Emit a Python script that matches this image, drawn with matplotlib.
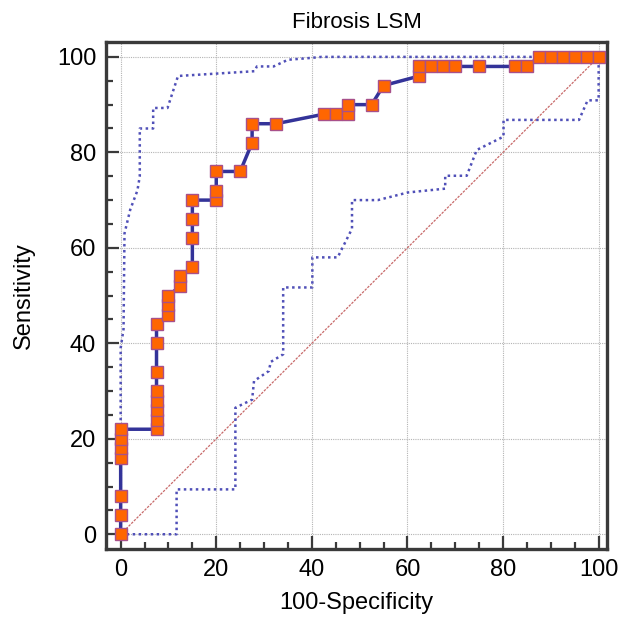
import matplotlib
matplotlib.use("Agg")
from matplotlib import pyplot as plt
from matplotlib.ticker import MultipleLocator

# ROC points (100-Specificity, Sensitivity)
rocX = [0, 0, 0, 0, 0, 0, 0,
        7.5, 7.5, 7.5, 7.5, 7.5, 7.5, 7.5, 7.5,
        10, 10, 10,
        12.5, 12.5,
        15, 15, 15, 15,
        20, 20, 20,
        25,
        27.5, 27.5,
        32.5,
        42.5, 45, 47.5, 47.5,
        52.5, 55,
        62.5, 62.5, 65, 67.5, 70, 75, 82.5, 85,
        87.5, 90, 92.5, 95, 97.5, 100]
rocY = [0, 4, 8, 16, 18, 20, 22,
        22, 24, 26, 28, 30, 34, 40, 44,
        46, 48, 50,
        52, 54,
        56, 62, 66, 70,
        70, 72, 76,
        76,
        82, 86,
        86,
        88, 88, 88, 90,
        90, 94,
        96, 98, 98, 98, 98, 98, 98, 98,
        100, 100, 100, 100, 100, 100]

# confidence bounds
upperX = [0, 0, 0.6, 0.8, 2, 3.5, 4, 4, 6.8, 6.8, 9.8, 12, 20, 28, 28.5, 32, 35, 40, 42, 100]
upperY = [0, 39, 43, 63, 68, 72, 75, 85, 85, 89.3, 89.3, 96, 96.5, 97, 98, 98, 99.4, 99.8, 100, 100]

lowerX = [0, 11.7, 11.7, 24, 24, 27.5, 27.9, 31, 31.4, 34, 34, 40.1, 40.1, 45.4, 48.4, 48.4,
          53.8, 60.1, 67.9, 67.9, 72.4, 74.5, 80.1, 80.1, 95.9, 97.7, 100, 100]
lowerY = [0, 0, 9.4, 9.4, 26.5, 28.2, 32.1, 34.2, 36.1, 37.7, 51.7, 51.7, 58, 58, 64, 70,
          70, 71.6, 72.4, 75.1, 75.1, 80.5, 83.3, 86.8, 86.8, 90.9, 90.9, 100]

diagX = [0, 100]
diagY = [0, 100]

plt.rcParams['font.family'] = ['Liberation Sans', 'DejaVu Sans']

fig = plt.figure(figsize=(6.19, 6.19), dpi=100)
ax = fig.add_axes([0.171, 0.113, 0.81, 0.819])

ax.plot(diagX, diagY, color="#c86a6a", linewidth=0.9, linestyle=(0, (2, 1)), zorder=2)
ax.plot(upperX, upperY, color="#5050b8", linewidth=1.8, linestyle=(0, (1, 1.4)), zorder=3)
ax.plot(lowerX, lowerY, color="#5050b8", linewidth=1.8, linestyle=(0, (1, 1.4)), zorder=3)
ax.plot(rocX, rocY, color="#333399", linewidth=2.5, marker="s", markersize=8.5,
        markerfacecolor="#ff6600", markeredgecolor="#a8508a", markeredgewidth=1.0, zorder=4)

ax.set_xlim(-3.1, 101.8)
ax.set_ylim(-3.1, 103.1)

ax.xaxis.set_major_locator(MultipleLocator(20))
ax.xaxis.set_minor_locator(MultipleLocator(5))
ax.yaxis.set_major_locator(MultipleLocator(20))
ax.yaxis.set_minor_locator(MultipleLocator(5))

ax.grid(True, which="major", color="#b4b4b4", linestyle=(0, (1, 1)), linewidth=0.8, zorder=1)
ax.set_axisbelow(True)

for s in ax.spines.values():
    s.set_linewidth(2.4)
    s.set_color("#3a3a3a")

ax.tick_params(which="major", direction="in", length=9.5, width=1.6, color="#3a3a3a",
               labelsize=17, pad=7, top=False, right=False)
ax.tick_params(which="minor", direction="in", length=5, width=1.6, color="#3a3a3a",
               top=False, right=False)

ax.set_title("Fibrosis LSM", fontsize=16, pad=10)
ax.set_xlabel("100-Specificity", fontsize=17, labelpad=8)
ax.set_ylabel("Sensitivity", fontsize=17, labelpad=16)

fig.savefig("out.png", dpi=100)
plt.close()
